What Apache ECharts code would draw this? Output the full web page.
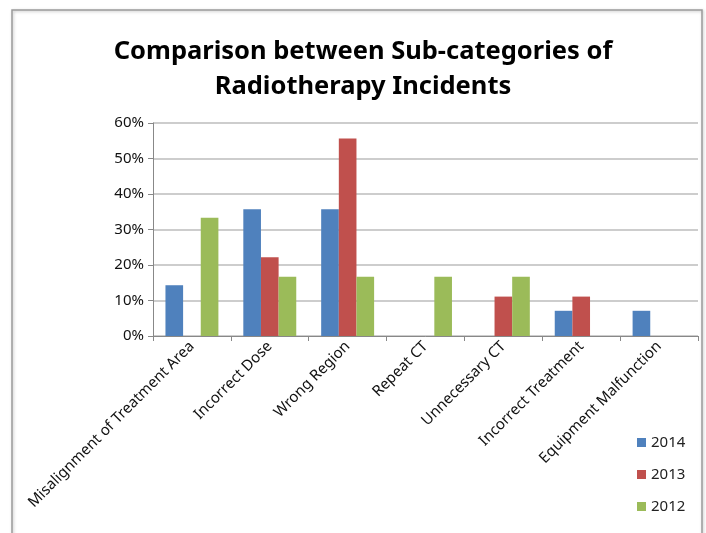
<!DOCTYPE html>
<html>
<head>
<meta charset="utf-8">
<script src="https://cdn.jsdelivr.net/npm/echarts@6/dist/echarts.min.js"></script>
<style>
    html, body { margin: 0; padding: 0; background: #fff; }
    #chart { width: 706px; height: 533px; }
</style>
</head>
<body>
<div id="chart"></div>
<script>
    // categories and values (percent)
    var categories = ['Misalignment of Treatment Area', 'Incorrect Dose', 'Wrong Region', 'Repeat CT',
        'Unnecessary CT', 'Incorrect Treatment', 'Equipment Malfunction'];
    var years = ['2014', '2013', '2012'];
    var values2014 = [14.3, 35.7, 35.7, 0, 0, 7.1, 7.1];
    var values2013 = [0, 22.2, 55.6, 0, 11.1, 11.1, 0];
    var values2012 = [33.3, 16.7, 16.7, 16.7, 16.7, 0, 0];
    var colors = ['#4f81bd', '#c0504d', '#9bbb59'];

    var myChart = echarts.init(document.getElementById('chart'));
    var font = 'Noto Sans';
    myChart.setOption({
        color: colors,
        animation: false,
        title: {
            text: 'Comparison between Sub-categories of\nRadiotherapy Incidents',
            left: 358,
            textAlign: 'center',
            top: 29,
            textStyle: {
                fontFamily: font,
                fontSize: 25.5,
                fontWeight: 'bold',
                color: '#000',
                lineHeight: 35
            }
        },
        graphic: [{
            type: 'rect',
            shape: { x: 12, y: 10, width: 690, height: 540 },
            style: { fill: 'none', stroke: '#9a9a9a', lineWidth: 1.5, shadowBlur: 3, shadowColor: 'rgba(0,0,0,0.25)', shadowOffsetX: 1, shadowOffsetY: 1 },
            z: -1
        }],
        legend: {
            orient: 'vertical',
            left: 632,
            top: 430,
            data: years,
            icon: 'rect',
            itemWidth: 9,
            itemHeight: 9,
            itemGap: 17,
            textStyle: { fontFamily: font, fontSize: 15, color: '#222' }
        },
        grid: {
            left: 153,
            right: 8,
            top: 123,
            bottom: 197,
            containLabel: false
        },
        xAxis: {
            type: 'category',
            data: categories,
            axisLine: { lineStyle: { color: '#888' } },
            axisTick: { show: true, length: 5, alignWithLabel: false, lineStyle: { color: '#888' } },
            axisLabel: {
                rotate: 45,
                interval: 0,
                fontFamily: font,
                fontSize: 15,
                color: '#111',
                margin: 8
            }
        },
        yAxis: {
            type: 'value',
            min: 0,
            max: 60,
            interval: 10,
            axisLine: { show: true, lineStyle: { color: '#888' } },
            axisTick: { show: true, length: 5, lineStyle: { color: '#888' } },
            splitLine: { lineStyle: { color: '#bdbdbd', width: 1.5 } },
            axisLabel: {
                formatter: '{value}%',
                fontFamily: font,
                fontSize: 15,
                color: '#111',
                margin: 9
            }
        },
        series: [
            { name: '2014', type: 'bar', data: values2014, barGap: '0%', barCategoryGap: '32%' },
            { name: '2013', type: 'bar', data: values2013, barGap: '0%', barCategoryGap: '32%' },
            { name: '2012', type: 'bar', data: values2012, barGap: '0%', barCategoryGap: '32%' }
        ]
    });
</script>
</body>
</html>
